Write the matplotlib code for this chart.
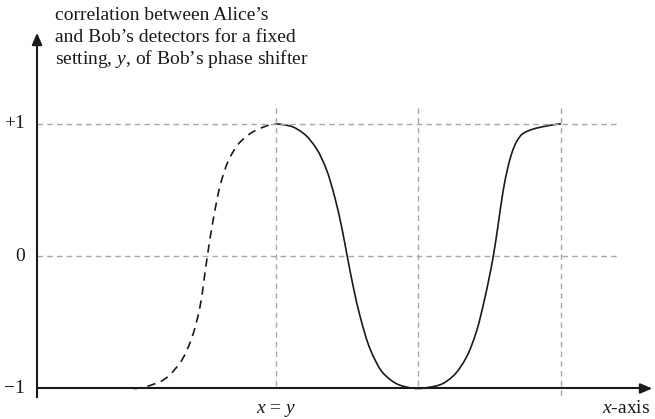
import matplotlib.pyplot as plt
import numpy as np
from matplotlib.path import Path
from matplotlib.patches import PathPatch

plt.rcParams['font.family'] = ['Liberation Serif', 'DejaVu Serif']
plt.rcParams['mathtext.fontset'] = 'custom'
plt.rcParams['mathtext.it'] = 'Liberation Serif:italic'
plt.rcParams['mathtext.rm'] = 'Liberation Serif'

dashed_x = [-1.0, -0.814, -0.674, -0.592, -0.533, -0.482, -0.44, -0.393, -0.335, -0.253, -0.135, 0.0]
dashed_y = [-1.0, -0.949, -0.807, -0.62, -0.38, 0.0, 0.28, 0.53, 0.72, 0.862, 0.955, 1.0]

solid_x = [0.0, 0.098, 0.192, 0.286, 0.356, 0.414, 0.461, 0.5, 0.542, 0.589, 0.66, 0.753, 0.87, 0.964, 1.0,
           1.08, 1.151, 1.244, 1.338, 1.408, 1.467, 1.525, 1.56, 1.595, 1.625, 1.655, 1.69, 1.73, 1.80, 1.90, 2.0]
solid_y = [1.0, 0.985, 0.93, 0.81, 0.65, 0.44, 0.22, 0.0, -0.23, -0.45, -0.70, -0.885, -0.975, -0.998, -1.0,
           -0.99, -0.972, -0.905, -0.76, -0.565, -0.31, 0.0, 0.245, 0.50, 0.66, 0.78, 0.87, 0.925, 0.96, 0.985, 1.0]

y_ticks = [1, 0, -1]
y_tick_labels = ['+1', '0', '\u22121']
v_lines = [0, 1, 2]
title_lines = ['correlation between Alice\u2019s',
               'and Bob\u2019s detectors for a fixed',
               'setting, $y$, of Bob\u2019s phase shifter']

ink = '#1a1a1a'
grid_c = '#a8a8a8'
FS = 14


def smooth_path(xs, ys):
    """Monotone cubic (Fritsch-Carlson) through the points, as Bezier segments."""
    x = np.asarray(xs, float)
    y = np.asarray(ys, float)
    h = np.diff(x)
    d = np.diff(y) / h
    m = np.zeros_like(x)
    m[0], m[-1] = d[0], d[-1]
    for i in range(1, len(x) - 1):
        if d[i - 1] * d[i] > 0:
            w1 = 2 * h[i] + h[i - 1]
            w2 = h[i] + 2 * h[i - 1]
            m[i] = (w1 + w2) / (w1 / d[i - 1] + w2 / d[i])
    # flat ends at the turning points
    for i in (0, len(x) - 1):
        if abs(abs(y[i]) - 1) < 1e-9:
            m[i] = 0.0
    verts = [(x[0], y[0])]
    codes = [Path.MOVETO]
    for i in range(len(x) - 1):
        k = h[i] / 3.0
        verts += [(x[i] + k, y[i] + m[i] * k),
                  (x[i + 1] - k, y[i + 1] - m[i + 1] * k),
                  (x[i + 1], y[i + 1])]
        codes += [Path.CURVE4] * 3
    return Path(verts, codes)


fig = plt.figure(figsize=(6.55, 4.19), dpi=100)
ax = fig.add_axes([0, 0, 1, 1])
ax.set_xlim(-1.937, 2.660)
ax.set_ylim(-1.2307, 1.9376)
ax.axis('off')


def py(pix):
    # vertical position given as pixels from the top edge
    return (256.25 - pix) / 132.25


# dashed reference grid
for y in [1, 0]:
    ax.plot([-1.677, 2.414], [y, y], color=grid_c, lw=1.0, ls=(0, (4, 3)))
for i, x in enumerate(v_lines):
    bottom = -1.064 if i == len(v_lines) - 1 else -1.0
    ax.plot([x, x], [1.12, bottom], color=grid_c, lw=1.0, ls=(0, (4, 3)))

# axes with arrow heads
ax.plot([-1.677, -1.677], [-1.064, 1.64], color=ink, lw=1.5)
ax.plot([-1.677, 2.60], [-1.0, -1.0], color=ink, lw=1.5)
ax.annotate('', xy=(-1.677, py(30)), xytext=(-1.677, 1.6),
            arrowprops=dict(arrowstyle='-|>,head_length=0.7,head_width=0.3', color=ink, lw=1.5))
ax.annotate('', xy=(2.66, -1.0), xytext=(2.56, -1.0),
            arrowprops=dict(arrowstyle='-|>,head_length=0.7,head_width=0.3', color=ink, lw=1.5))

# correlation curve
ax.add_patch(PathPatch(smooth_path(dashed_x, dashed_y), fill=False, ec=ink, lw=1.2,
                       ls=(0, (5, 3.5))))
ax.add_patch(PathPatch(smooth_path(solid_x, solid_y), fill=False, ec=ink, lw=1.2))

for v, lab in zip(y_ticks, y_tick_labels):
    ax.text(-1.761, v, lab, ha='right', va='center', fontsize=FS, color=ink)

ax.text(0, py(413), '$x$ = $y$', ha='center', va='baseline', fontsize=FS, color=ink)
ax.text(2.625, py(413), '$x$-axis', ha='right', va='baseline', fontsize=FS, color=ink)

for line, base in zip(title_lines, [20.5, 42.5, 64.5]):
    ax.text(-1.551, py(base), line, ha='left', va='baseline', fontsize=FS, color=ink)

fig.savefig('out.png', dpi=100)
